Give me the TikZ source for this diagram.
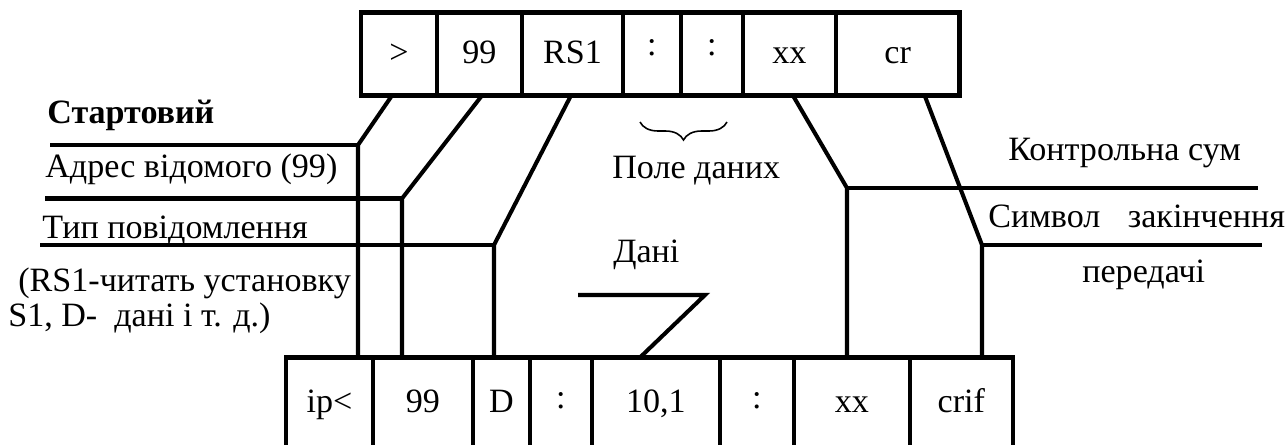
\documentclass[tikz,border=0pt]{standalone}
\usepackage{fontspec}
\setmainfont{Liberation Serif}
\usetikzlibrary{positioning,calc,decorations.pathreplacing}

\begin{document}
\begin{tikzpicture}[
    x=0.02cm, y=-0.02cm,
    node distance=0pt,
    font=\fontsize{19.4}{23}\selectfont,
    cell/.style={rectangle,draw,line width=2.6pt,inner sep=0pt,outer sep=0pt,
      minimum height=1.66cm,text height=0.5cm,text depth=0.14cm},
    cellb/.style={cell,minimum height=1.92cm,text height=0.4cm,text depth=0.14cm},
    wire/.style={line width=2.3pt},
    lbl/.style={anchor=base west,inner sep=0pt}
  ]
  \useasboundingbox (0,0) rectangle (1288,444);

  % frame sent by the master
  \node[cell,minimum width=1.52cm] (c1) at (399,54) {>};
  \node[cell,minimum width=1.70cm,right=of c1] (c2) {99};
  \node[cell,minimum width=2.02cm,right=of c2] (c3) {RS1};
  \node[cell,minimum width=1.16cm,right=of c3] (c4) {\raisebox{0.16cm}{:}};
  \node[cell,minimum width=1.24cm,right=of c4] (c5) {\raisebox{0.16cm}{:}};
  \node[cell,minimum width=1.86cm,right=of c5] (c6) {xx};
  \node[cell,minimum width=2.47cm,right=of c6] (c7) {cr};

  % frame of the answer
  \node[cellb,minimum width=1.74cm] (b1) at (329.5,405.5) {ip<};
  \node[cellb,minimum width=2.00cm,right=of b1] (b2) {99};
  \node[cellb,minimum width=1.14cm,right=of b2] (b3) {D};
  \node[cellb,minimum width=1.24cm,right=of b3] (b4) {\raisebox{0.08cm}{:}};
  \node[cellb,minimum width=2.56cm,right=of b4] (b5) {10,1};
  \node[cellb,minimum width=1.48cm,right=of b5] (b6) {\raisebox{0.08cm}{:}};
  \node[cellb,minimum width=2.32cm,right=of b6] (b7) {xx};
  \node[cellb,minimum width=2.06cm,right=of b7] (b8) {crif};

  % labels
  \node[lbl] (start) at (47,123) {\textbf{Стартовий}};
  \node[lbl] (addr) at (45,177) {Адрес відомого (99)};
  \node[lbl] (kind) at (42,238) {Тип повідомлення};
  \node[lbl] (rsa) at (18,291) {(RS1-читать установку};
  \node[lbl] (rsb) at (8,326) {S1, D-\ \ дані і т. д.)};
  \node[lbl] (csum) at (1008,160) {Контрольна сум};
  \node[lbl] (endsym) at (988,227) {Символ\hspace{0.55cm}закінчення};
  \node[lbl] (transm) at (1082,282) {передачі};
  \node[lbl] (field) at (612,178) {Поле даних};
  \node[lbl] (data) at (613,262) {Дані};

  \draw[line width=0.9pt,decorate,decoration={brace,amplitude=0.36cm}]
    (727,122) -- (640,122);

  % bends
  \coordinate (ka) at (358,145);
  \coordinate (kb) at (402,198.5);
  \coordinate (kc) at (494,245);
  \coordinate (kd) at (847,188);
  \coordinate (ke) at (982,245);
  \coordinate (ua) at (50,145);
  \coordinate (ub) at (45,198.5);
  \coordinate (uc) at (40,245);
  \coordinate (ud) at (1258,188);
  \coordinate (ue) at (1262,245);
  \coordinate (za) at (578,295);
  \coordinate (zb) at (705,295);

  \draw[wire] ($(c1.south)+(-7,0)$) -- (ka) -- (ka |- b1.north);
  \draw[wire] ($(c2.south)+(2.5,0)$) -- (kb) -- (kb |- b2.north);
  \draw[wire] ($(c3.south)+(-1.5,0)$) -- (kc) -- (kc |- b3.north);
  \draw[wire] ($(c6.south)+(3.5,0)$) -- (kd) -- (kd |- b7.north);
  \draw[wire] ($(c7.south)+(27,0)$) -- (ke) -- (ke |- b8.north);
  \draw[wire] (ua) -- (ka);
  \draw[wire] (ub) -- (kb);
  \draw[wire] (uc) -- (kc);
  \draw[wire] (kd) -- (ud);
  \draw[wire] (ke) -- (ue);
  \draw[wire] (za) -- (zb) -- ($(b5.north)+(-16,0)$);
\end{tikzpicture}
\end{document}
